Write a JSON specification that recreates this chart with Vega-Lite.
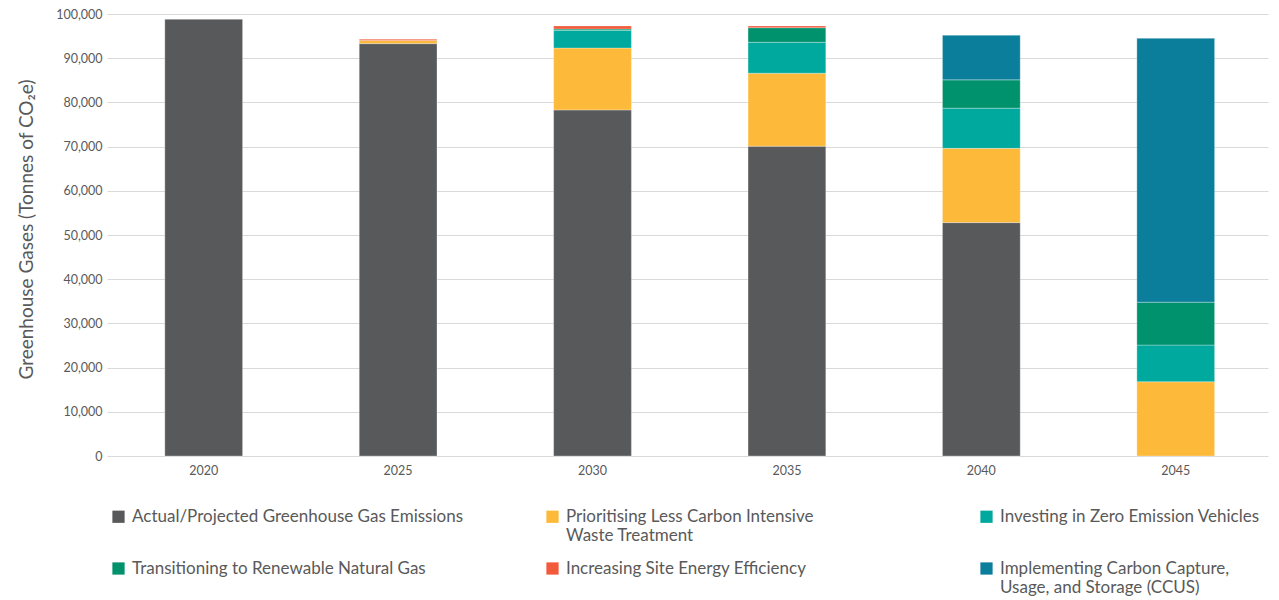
{
  "$schema": "https://vega.github.io/schema/vega-lite/v6.json",
  "width": 1161,
  "height": 442,
  "autosize": {"type": "none"},
  "padding": {"left": 107, "top": 14, "right": 11, "bottom": 144},
  "background": "#ffffff",
  "config": {
    "font": "Lato",
    "view": {"stroke": null}
  },
  "data": {
    "values": [
      {"year": "2020", "category": "Actual/Projected Greenhouse Gas Emissions", "value": 98800},
      {"year": "2025", "category": "Actual/Projected Greenhouse Gas Emissions", "value": 93300},
      {"year": "2025", "category": "Prioritising Less Carbon Intensive Waste Treatment", "value": 700},
      {"year": "2025", "category": "Increasing Site Energy Efficiency", "value": 300},
      {"year": "2030", "category": "Actual/Projected Greenhouse Gas Emissions", "value": 78300},
      {"year": "2030", "category": "Prioritising Less Carbon Intensive Waste Treatment", "value": 14000},
      {"year": "2030", "category": "Investing in Zero Emission Vehicles", "value": 4000},
      {"year": "2030", "category": "Transitioning to Renewable Natural Gas", "value": 300},
      {"year": "2030", "category": "Increasing Site Energy Efficiency", "value": 700},
      {"year": "2035", "category": "Actual/Projected Greenhouse Gas Emissions", "value": 70100},
      {"year": "2035", "category": "Prioritising Less Carbon Intensive Waste Treatment", "value": 16500},
      {"year": "2035", "category": "Investing in Zero Emission Vehicles", "value": 7000},
      {"year": "2035", "category": "Transitioning to Renewable Natural Gas", "value": 3300},
      {"year": "2035", "category": "Increasing Site Energy Efficiency", "value": 400},
      {"year": "2040", "category": "Actual/Projected Greenhouse Gas Emissions", "value": 52800},
      {"year": "2040", "category": "Prioritising Less Carbon Intensive Waste Treatment", "value": 16800},
      {"year": "2040", "category": "Investing in Zero Emission Vehicles", "value": 9100},
      {"year": "2040", "category": "Transitioning to Renewable Natural Gas", "value": 6400},
      {"year": "2040", "category": "Implementing Carbon Capture, Usage, and Storage (CCUS)", "value": 10100},
      {"year": "2045", "category": "Prioritising Less Carbon Intensive Waste Treatment", "value": 16800},
      {"year": "2045", "category": "Investing in Zero Emission Vehicles", "value": 8300},
      {"year": "2045", "category": "Transitioning to Renewable Natural Gas", "value": 9700},
      {"year": "2045", "category": "Implementing Carbon Capture, Usage, and Storage (CCUS)", "value": 59700}
    ]
  },
  "transform": [
    {"calculate": "indexof(['Actual/Projected Greenhouse Gas Emissions', 'Prioritising Less Carbon Intensive Waste Treatment', 'Investing in Zero Emission Vehicles', 'Transitioning to Renewable Natural Gas', 'Increasing Site Energy Efficiency', 'Implementing Carbon Capture, Usage, and Storage (CCUS)'], datum.category)", "as": "stackOrder"}
  ],
  "mark": {"type": "bar", "stroke": "#ffffff", "strokeWidth": 0.6, "strokeOpacity": 0.5},
  "encoding": {
    "x": {
      "field": "year",
      "type": "ordinal",
      "scale": {"paddingInner": 0.6, "paddingOuter": 0.286, "align": 0.52},
      "axis": {
        "title": null,
        "labelAngle": 0,
        "ticks": false,
        "tickSize": 0,
        "domain": false,
        "labelFontSize": 12.5,
        "labelColor": "#595959",
        "labelPadding": 8
      }
    },
    "y": {
      "field": "value",
      "type": "quantitative",
      "aggregate": "sum",
      "stack": "zero",
      "scale": {"domain": [0, 100000], "nice": false},
      "axis": {
        "title": "Greenhouse Gases (Tonnes of CO₂e)",
        "titleFontSize": 19,
        "titleFontWeight": "normal",
        "titleColor": "#595959",
        "titleX": -81,
        "titleY": 215,
        "titleBaseline": "middle",
        "titleAngle": -90,
        "values": [0, 10000, 20000, 30000, 40000, 50000, 60000, 70000, 80000, 90000, 100000],
        "format": ",.0f",
        "ticks": false,
        "tickSize": 0,
        "domain": false,
        "grid": true,
        "gridColor": "#d9d9d9",
        "gridWidth": 1,
        "labelFontSize": 12.5,
        "labelColor": "#595959",
        "labelPadding": 5
      }
    },
    "order": {"field": "stackOrder", "type": "quantitative", "sort": "ascending"},
    "color": {
      "field": "category",
      "type": "nominal",
      "scale": {
        "domain": [
          "Actual/Projected Greenhouse Gas Emissions",
          "Prioritising Less Carbon Intensive Waste Treatment",
          "Investing in Zero Emission Vehicles",
          "Transitioning to Renewable Natural Gas",
          "Increasing Site Energy Efficiency",
          "Implementing Carbon Capture, Usage, and Storage (CCUS)"
        ],
        "range": ["#58595b", "#fdb93a", "#00a99d", "#00926d", "#f15a3a", "#0a7e9b"]
      },
      "legend": {
        "title": null,
        "orient": "none",
        "legendX": 3,
        "legendY": 494,
        "direction": "horizontal",
        "columns": 3,
        "gridAlign": "all",
        "columnPadding": 80,
        "rowPadding": 15,
        "padding": 0,
        "symbolType": "square",
        "symbolSize": 150,
        "symbolStrokeWidth": 0,
        "symbolOpacity": 1,
        "labelFontSize": 17,
        "labelColor": "#595959",
        "labelLimit": 500,
        "labelOffset": 5,
        "labelBaseline": "middle",
        "labelExpr": "datum.label == 'Prioritising Less Carbon Intensive Waste Treatment' ? ['Prioritising Less Carbon Intensive', 'Waste Treatment'] : datum.label == 'Implementing Carbon Capture, Usage, and Storage (CCUS)' ? ['Implementing Carbon Capture,', 'Usage, and Storage (CCUS)'] : [datum.label, '']",
        "labelLineHeight": 19
      }
    }
  }
}
